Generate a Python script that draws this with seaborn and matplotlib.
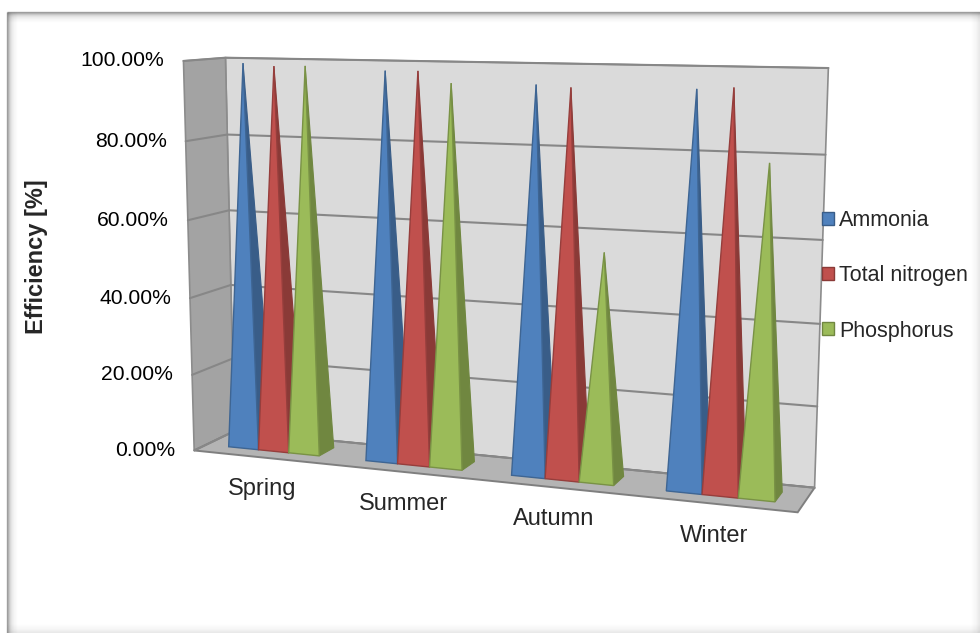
import numpy as np
import pandas as pd
import matplotlib
matplotlib.use("Agg")
import matplotlib.pyplot as plt
from matplotlib.patches import Patch
import seaborn as sns

# ---- data -------------------------------------------------------------
seasons = ["Spring", "Summer", "Autumn", "Winter"]
series_names = ["Ammonia", "Total nitrogen", "Phosphorus"]
ammonia = [99.2, 98.0, 95.4, 95.2]
total_nitrogen = [98.6, 98.1, 94.9, 95.7]
phosphorus = [98.8, 95.3, 55.9, 78.7]
y_ticks = [0, 20, 40, 60, 80, 100]
y_tick_labels = ["0.00%", "20.00%", "40.00%", "60.00%", "80.00%", "100.00%"]

df = pd.DataFrame({
    "season": np.repeat(seasons, 3),
    "series": series_names * len(seasons),
    "value": np.ravel(np.column_stack([ammonia, total_nitrogen, phosphorus])),
})

# ---- style ------------------------------------------------------------
sns.set_theme(style="white")
plt.rcParams["font.family"] = ["Liberation Sans", "DejaVu Sans"]

face_colors = sns.color_palette(["#4F81BD", "#C0504D", "#9BBB59"])
side_colors = [tuple(np.array(c) * 0.72) for c in face_colors]
edge_colors = [tuple(np.array(c) * 0.78) for c in face_colors]

# ---- 3-D box placement (world X: category units, Y: depth 0=front..1=back,
#      Z: fraction of 100 %) mapped onto figure pixels by a pinhole camera
frame_anchors = [
    ((0, 0, 0.0), (193, 451)),
    ((0, 0, 0.2), (193, 374)),
    ((0, 0, 0.6), (188, 220)),
    ((0, 0, 0.8), (187, 142)),
    ((0, 0, 1.0), (182, 61)),
    ((0, 1, 1.0), (225, 57)),
    ((0, 1, 0.8), (228, 135)),
    ((4, 1, 1.0), (828, 68)),
    ((4, 1, 0.8), (827, 155)),
    ((4, 1, 0.6), (823, 240)),
    ((4, 1, 0.4), (817, 323)),
    ((4, 1, 0.2), (818, 407)),
    ((4, 1, 0.0), (815, 488)),
    ((4, 0, 0.0), (798, 512)),
]

rows, rhs = [], []
for (X, Y, Z), (u, v) in frame_anchors:
    rows.append([X, Y, Z, 1, 0, 0, 0, 0, -u * X, -u * Y, -u * Z])
    rhs.append(u)
    rows.append([0, 0, 0, 0, X, Y, Z, 1, -v * X, -v * Y, -v * Z])
    rhs.append(v)
sol, *_ = np.linalg.lstsq(np.array(rows, float), np.array(rhs, float), rcond=None)
P = np.append(sol, 1.0).reshape(3, 4)


def project(*pts):
    a = np.array(pts, float)
    h = np.column_stack([a, np.ones(len(a))]) @ P.T
    return h[:, :2] / h[:, 2:3]


n_cat = len(seasons)
n_ser = len(series_names)
gap = 1.5                      # gap width, in bar widths
bar_w = 1.0 / (n_ser + gap)
depth_front, depth_back = 0.3, 0.7
apex_depth = (depth_front + depth_back) / 2

fig = plt.figure(figsize=(9.8, 6.33), dpi=100)
ax = fig.add_axes([0, 0, 1, 1])
ax.set_xlim(0, 980)
ax.set_ylim(633, 0)
ax.axis("off")

# ---- chart-area border with inner shadow -----------------------------
for k in range(10):
    a = 0.55 * np.exp(-k / 2.5)
    ax.plot([7, 980], [12 + k, 12 + k], color="0.35", alpha=a, lw=1, solid_capstyle="butt")
    ax.plot([7 + k, 7 + k], [12, 633], color="0.35", alpha=a, lw=1, solid_capstyle="butt")
for k in range(8):
    a = 0.12 * np.exp(-k / 3)
    ax.plot([7, 980], [632 - k, 632 - k], color="0.4", alpha=a, lw=1)
    ax.plot([979 - k, 979 - k], [12, 633], color="0.4", alpha=a, lw=1)

# ---- walls and floor ---------------------------------------------------
wall_edge = "#8c8c8c"
back = project((0, 1, 0), (n_cat, 1, 0), (n_cat, 1, 1), (0, 1, 1))
ax.fill(back[:, 0], back[:, 1], color="#dadada", ec=wall_edge, lw=1.2, zorder=1)
side = project((0, 0, 0), (0, 1, 0), (0, 1, 1), (0, 0, 1))
ax.fill(side[:, 0], side[:, 1], color="#a3a3a3", ec=wall_edge, lw=1.2, zorder=1)
floor = project((0, 0, 0), (n_cat, 0, 0), (n_cat, 1, 0), (0, 1, 0))
ax.fill(floor[:, 0], floor[:, 1], color="#b4b4b4", ec="#7f7f7f", lw=1.4, zorder=1)

for t, lab_text in zip(y_ticks, y_tick_labels):
    z = t / 100
    g = project((0, 0, z), (0, 1, z), (n_cat, 1, z))
    ax.plot(g[:, 0], g[:, 1], color="#878787", lw=1.5, zorder=2)
    lab = project((0, 0, z))[0]
    ax.text(lab[0] - 19, lab[1], lab_text, ha="right", va="center",
            fontsize=15.2, color="black")

# ---- pyramids ----------------------------------------------------------
for i, season in enumerate(seasons):
    sub = df[df["season"] == season]
    for j, name in enumerate(series_names):
        v = float(sub.loc[sub["series"] == name, "value"].iloc[0]) / 100
        x0 = i + gap * bar_w / 2 + j * bar_w
        x1 = x0 + bar_w
        xc = (x0 + x1) / 2
        right = project((x1, depth_front, 0), (x1, depth_back, 0), (xc, apex_depth, v))
        ax.fill(right[:, 0], right[:, 1], color=side_colors[j], ec=side_colors[j],
                lw=0.8, zorder=3)
        front = project((x0, depth_front, 0), (x1, depth_front, 0), (xc, apex_depth, v))
        ax.fill(front[:, 0], front[:, 1], color=face_colors[j], ec=edge_colors[j],
                lw=1.0, zorder=3)
    lp = project((i + 0.5, 0, 0))[0]
    ax.text(lp[0], lp[1] + 32, season, ha="center", va="center", fontsize=17)

# ---- axis title and legend ---------------------------------------------
ax.text(36, 257, "Efficiency [%]", rotation=90, ha="center", va="center",
        fontsize=17, fontweight="bold")

handles = [Patch(facecolor=face_colors[j], edgecolor=side_colors[j], lw=1.0)
           for j in range(n_ser)]
ax.legend(handles, series_names, loc="center left", bbox_to_anchor=(822, 276),
          bbox_transform=ax.transData, frameon=False, fontsize=15.5,
          handlelength=0.55, handleheight=0.55, handletextpad=0.25,
          labelspacing=1.58, borderaxespad=0, borderpad=0)

fig.savefig("out.png", dpi=100, facecolor="white")
